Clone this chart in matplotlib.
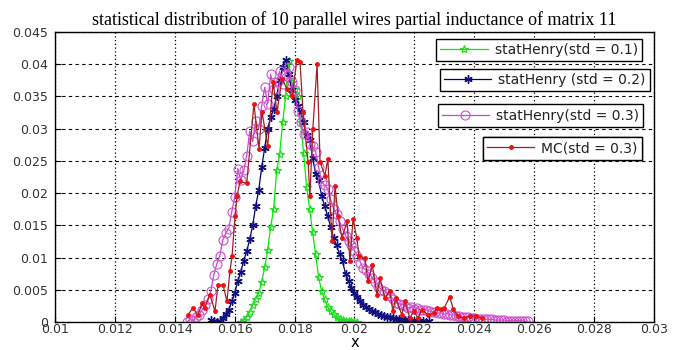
import numpy as np
import matplotlib.pyplot as plt

# statHenry, std = 0.1
x_g = [0.0162, 0.0163, 0.0164, 0.0165, 0.0166, 0.0167, 0.0168, 0.0169, 0.0170, 0.0171,
       0.0172, 0.0173, 0.0174, 0.0175, 0.0176, 0.0177, 0.0178, 0.0179, 0.0180, 0.0181,
       0.0182, 0.0183, 0.0184, 0.0185, 0.0186, 0.0187, 0.0188, 0.0189, 0.0190, 0.0191,
       0.0192, 0.0193, 0.0194, 0.0195, 0.0196, 0.0197, 0.0198, 0.0199, 0.0200, 0.0201]
y_g = [0.0, 0.0003, 0.0008, 0.0016, 0.0027, 0.0036, 0.0045, 0.0062, 0.0085, 0.0112,
       0.0148, 0.0175, 0.0235, 0.0260, 0.0310, 0.0350, 0.0405, 0.0372, 0.0362, 0.0350,
       0.0310, 0.0262, 0.0210, 0.0176, 0.0140, 0.0105, 0.0070, 0.0048, 0.0035, 0.0024,
       0.0017, 0.0012, 0.0008, 0.0005, 0.0003, 0.0002, 0.0001, 0.0001, 0.0, 0.0]

# statHenry, std = 0.2
x_b = [0.0152, 0.0153, 0.0154, 0.0155, 0.0156, 0.0157, 0.0158, 0.0159, 0.0160, 0.0161,
       0.0162, 0.0163, 0.0164, 0.0165, 0.0166, 0.0167, 0.0168, 0.0169, 0.0170, 0.0171,
       0.0172, 0.0173, 0.0174, 0.0175, 0.0176, 0.0177, 0.0178, 0.0179, 0.0180, 0.0181,
       0.0182, 0.0183, 0.0184, 0.0185, 0.0186, 0.0187, 0.0188, 0.0189, 0.0190, 0.0191,
       0.0192, 0.0193, 0.0194, 0.0195, 0.0196, 0.0197, 0.0198, 0.0199, 0.0200, 0.0201,
       0.0202, 0.0203, 0.0204, 0.0205, 0.0206, 0.0207, 0.0208, 0.0209, 0.0210, 0.0211,
       0.0212, 0.0213, 0.0214, 0.0215, 0.0216, 0.0217, 0.0218, 0.0219, 0.0220, 0.0221,
       0.0222, 0.0223, 0.0224, 0.0225]
y_b = [0.0003, 0.0001, 0.0, 0.0001, 0.0006, 0.0012, 0.0019, 0.0032, 0.0045, 0.0063,
       0.0078, 0.0095, 0.0110, 0.0128, 0.0150, 0.0180, 0.0204, 0.0240, 0.0270, 0.0300,
       0.0318, 0.0330, 0.0350, 0.0375, 0.0395, 0.0407, 0.0385, 0.0360, 0.0345, 0.0335,
       0.0326, 0.0310, 0.0290, 0.0282, 0.0255, 0.0230, 0.0220, 0.0196, 0.0180, 0.0165,
       0.0148, 0.0130, 0.0119, 0.0105, 0.0094, 0.0075, 0.0063, 0.0052, 0.0045, 0.0038,
       0.0032, 0.0027, 0.0023, 0.0020, 0.0017, 0.0015, 0.0012, 0.0011, 0.0009, 0.0008,
       0.0007, 0.0006, 0.0005, 0.0005, 0.0004, 0.0003, 0.0003, 0.0002, 0.0002, 0.0001,
       0.0001, 0.0002, 0.0, 0.0001]

# statHenry, std = 0.3
x_m = [0.0144, 0.0145, 0.0146, 0.0147, 0.0148, 0.0149, 0.0150, 0.0151, 0.0152, 0.0153,
       0.0154, 0.0155, 0.0156, 0.0157, 0.0158, 0.0159, 0.0160, 0.0161, 0.0162, 0.0163,
       0.0164, 0.0165, 0.0166, 0.0167, 0.0168, 0.0169, 0.0170, 0.0171, 0.0172, 0.0173,
       0.0174, 0.0175, 0.0176, 0.0177, 0.0178, 0.0179, 0.0180, 0.0181, 0.0182, 0.0183,
       0.0184, 0.0185, 0.0186, 0.0187, 0.0188, 0.0189, 0.0190, 0.0191, 0.0192, 0.0193,
       0.0194, 0.0195, 0.0196, 0.0197, 0.0198, 0.0199, 0.0200, 0.0201, 0.0202, 0.0203,
       0.0204, 0.0205, 0.0206, 0.0207, 0.0208, 0.0209, 0.0210, 0.0211, 0.0212, 0.0213,
       0.0214, 0.0215, 0.0216, 0.0217, 0.0218, 0.0219, 0.0220, 0.0221, 0.0222, 0.0223,
       0.0224, 0.0225, 0.0226, 0.0227, 0.0228, 0.0229, 0.0230, 0.0231, 0.0232, 0.0233,
       0.0234, 0.0235, 0.0236, 0.0237, 0.0238, 0.0239, 0.0240, 0.0241, 0.0242, 0.0243,
       0.0244, 0.0245, 0.0246, 0.0247, 0.0248, 0.0249, 0.0250, 0.0251, 0.0252, 0.0253,
       0.0254, 0.0255, 0.0256, 0.0257, 0.0258]
y_m = [0.0, 0.0004, 0.0002, 0.0008, 0.0011, 0.0018, 0.0026, 0.0035, 0.0048, 0.0073,
       0.0090, 0.0102, 0.0127, 0.0138, 0.0145, 0.0171, 0.0194, 0.0238, 0.0220, 0.0235,
       0.0258, 0.0296, 0.0280, 0.0312, 0.0300, 0.0335, 0.0364, 0.0338, 0.0384, 0.0361,
       0.0372, 0.0389, 0.0369, 0.0384, 0.0395, 0.0372, 0.0360, 0.0327, 0.0310, 0.0292,
       0.0295, 0.0276, 0.0273, 0.0264, 0.0240, 0.0218, 0.0212, 0.0207, 0.0190, 0.0176,
       0.0168, 0.0156, 0.0145, 0.0134, 0.0126, 0.0119, 0.0110, 0.0103, 0.0092, 0.0083,
       0.0080, 0.0075, 0.0068, 0.0062, 0.0055, 0.0050, 0.0048, 0.0045, 0.0040, 0.0035,
       0.0030, 0.0028, 0.0027, 0.0025, 0.0022, 0.0023, 0.0020, 0.0021, 0.0019, 0.0018,
       0.0019, 0.0017, 0.0016, 0.0015, 0.0014, 0.0014, 0.0012, 0.0013, 0.0011, 0.0011,
       0.0010, 0.0009, 0.0008, 0.0008, 0.0007, 0.0006, 0.0006, 0.0005, 0.0005, 0.0005,
       0.0004, 0.0004, 0.0004, 0.0003, 0.0003, 0.0003, 0.0003, 0.0002, 0.0002, 0.0002,
       0.0002, 0.0002, 0.0002, 0.0001, 0.0001]

# MC, std = 0.3
x_r = [0.01444, 0.01460, 0.01477, 0.01491, 0.01500, 0.01517, 0.01534, 0.01544, 0.01561, 0.01574,
       0.01584, 0.01591, 0.01601, 0.01608, 0.01618, 0.01640, 0.01664, 0.01681, 0.01691, 0.01710,
       0.01728, 0.01741, 0.01758, 0.01775, 0.01791, 0.01808, 0.01818, 0.01828, 0.01845, 0.01851,
       0.01861, 0.01875, 0.01885, 0.01901, 0.01911, 0.01925, 0.01935, 0.01945, 0.01958, 0.01975,
       0.01985, 0.01995, 0.02008, 0.02015, 0.02035, 0.02045, 0.02060, 0.02075, 0.02085, 0.02102,
       0.02118, 0.02128, 0.02138, 0.02158, 0.02168, 0.02185, 0.02198, 0.02212, 0.02225, 0.02245,
       0.02265, 0.02275, 0.02290, 0.02300, 0.02318, 0.02330, 0.02345, 0.02365, 0.02385, 0.02405,
       0.02425]
y_r = [0.0011, 0.0022, 0.0011, 0.0029, 0.0022, 0.0042, 0.0017, 0.0057, 0.0057, 0.0032,
       0.0079, 0.0102, 0.0165, 0.0196, 0.0218, 0.0215, 0.0338, 0.0269, 0.0326, 0.0273,
       0.0372, 0.0326, 0.0377, 0.0361, 0.0350, 0.0407, 0.0404, 0.0326, 0.0248, 0.0196,
       0.0300, 0.0400, 0.0248, 0.0227, 0.0253, 0.0125, 0.0211, 0.0165, 0.0130, 0.0156,
       0.0094, 0.0160, 0.0130, 0.0103, 0.0099, 0.0063, 0.0088, 0.0042, 0.0068, 0.0037,
       0.0048, 0.0017, 0.0037, 0.0011, 0.0032, 0.0006, 0.0017, 0.0006, 0.0019, 0.0011,
       0.0014, 0.0022, 0.0020, 0.0022, 0.0039, 0.0020, 0.0009, 0.0006, 0.0009, 0.0010,
       0.0006]

xticks = [0.01, 0.012, 0.014, 0.016, 0.018, 0.02, 0.022, 0.024, 0.026, 0.028, 0.03]
xticklabels = ['0.01', '0.012', '0.014', '0.016', '0.018', '0.02', '0.022', '0.024', '0.026', '0.028', '0.03']
yticks = [0, 0.005, 0.01, 0.015, 0.02, 0.025, 0.03, 0.035, 0.04, 0.045]
yticklabels = ['0', '0.005', '0.01', '0.015', '0.02', '0.025', '0.03', '0.035', '0.04', '0.045']

plt.rcParams['font.family'] = ['DejaVu Sans']

fig = plt.figure(figsize=(6.89, 3.5), dpi=100)
ax = fig.add_axes([0.080, 0.080, 0.869, 0.829])

l1, = ax.plot(x_g, y_g, color='#00ee00', lw=0.9, marker='*', ms=6, mec='#22dd22', mfc='none', mew=0.9)
l2, = ax.plot(x_b, y_b, color='#000070', lw=0.9, marker=(6, 2, 0), ms=6, mec='#101080', mew=1.0)
l3, = ax.plot(x_m, y_m, color='#cc44cc', lw=0.9, marker='o', ms=6.5, mec='#d050d0', mfc='none', mew=0.8)
l4, = ax.plot(x_r, y_r, color='#a02020', lw=0.9, marker='.', ms=5, mec='#ee1010', mfc='#ee1010')

ax.set_xlim(0.01, 0.03)
ax.set_ylim(0, 0.045)
ax.set_xticks(xticks)
ax.set_xticklabels(xticklabels)
ax.set_yticks(yticks)
ax.set_yticklabels(yticklabels)
ax.tick_params(direction='in', labelsize=9, length=4, colors='black', labelcolor='#333333')
ax.tick_params(axis='x', pad=1)
ax.tick_params(axis='y', pad=5)

# vertical grid dotted, horizontal grid dashed
ax.xaxis.grid(True, color='black', linestyle=(0, (1, 2)), lw=0.9)
ax.yaxis.grid(True, color='black', linestyle=(0, (3, 3)), lw=0.8)
for s in ax.spines.values():
    s.set_linewidth(1.0)

ax.set_title('statistical distribution of 10 parallel wires partial inductance of matrix 11',
             fontfamily='Liberation Serif', fontsize=13, pad=5)
ax.set_xlabel('x', fontsize=10.5, labelpad=-1)

names = ['statHenry(std = 0.1)', 'statHenry (std = 0.2)', 'statHenry(std = 0.3)', 'MC(std = 0.3)']
spots = [(0.980, 0.976), (0.993, 0.873), (0.982, 0.750), (0.980, 0.637)]
for h, name, spot in zip([l1, l2, l3, l4], names, spots):
    leg = ax.legend([h], [name], loc='upper right', bbox_to_anchor=spot, fontsize=10,
                    fancybox=False, framealpha=1, edgecolor='black', handlelength=3.4,
                    borderpad=0.3, handletextpad=0.5, borderaxespad=0, numpoints=1)
    leg.get_frame().set_linewidth(1.0)
    for t in leg.get_texts():
        t.set_color('#222222')
    ax.add_artist(leg)

fig.savefig('out.png', dpi=100)
